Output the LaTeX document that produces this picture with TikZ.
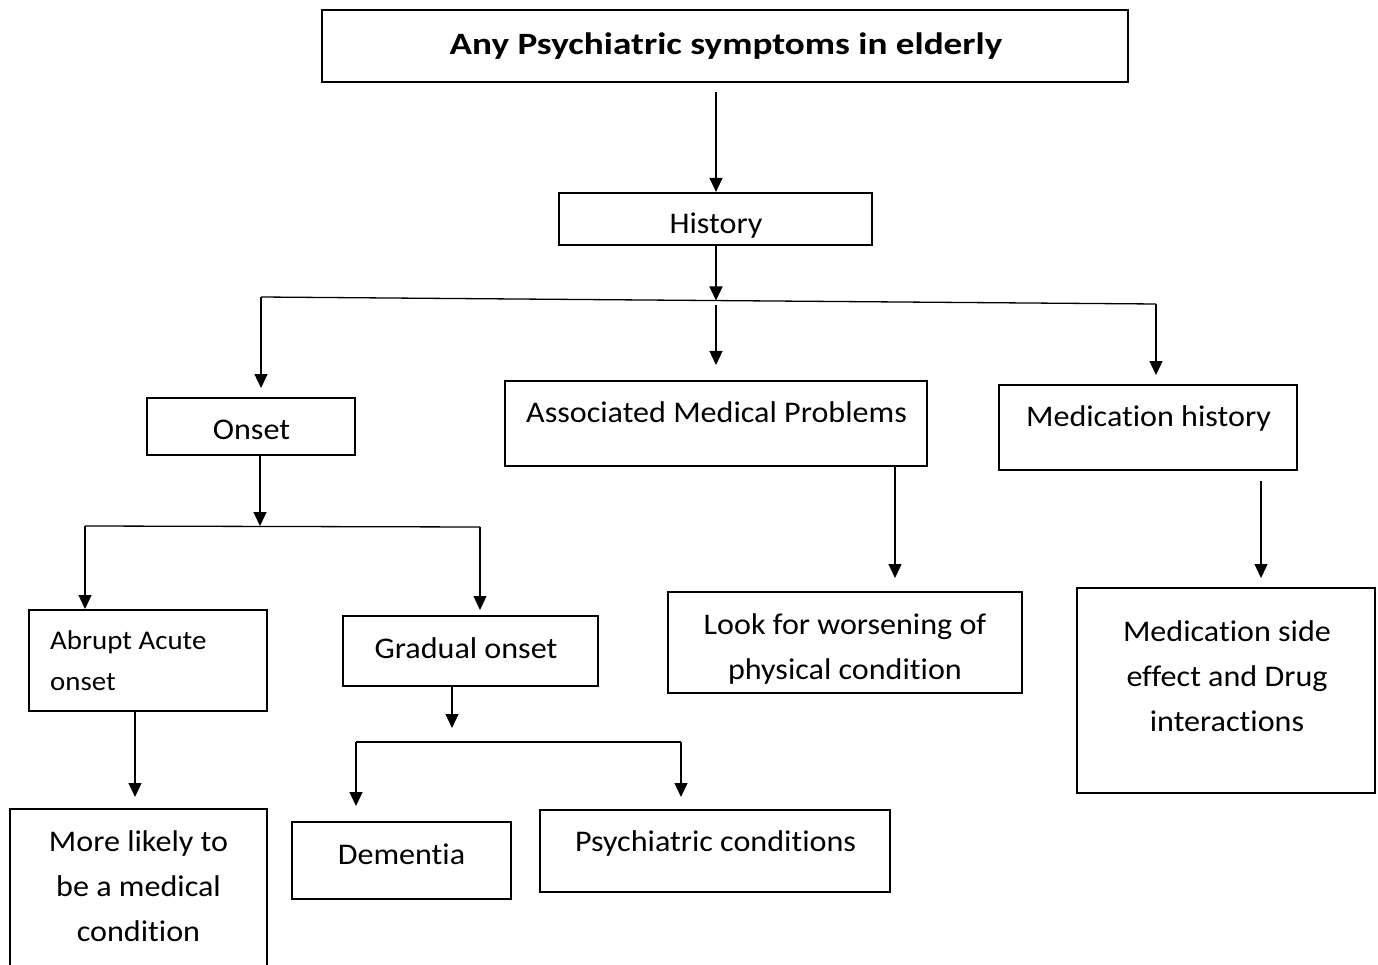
\documentclass[tikz,border=0pt]{standalone}
\usepackage{fontspec}
\setmainfont[Ligatures=CommonOff]{Carlito}
\newfontfamily\regf[FakeStretch=1.07,Ligatures=CommonOff]{Carlito}
\newfontfamily\topf[FakeStretch=1.2,Ligatures=CommonOff]{Carlito}
\usetikzlibrary{arrows.meta}
\tikzset{
  box/.style={draw, line width=2.2pt, inner sep=0pt},
  arr/.style={-{Triangle[width=13pt,length=14pt]}, line width=1.3pt},
  bus/.style={line width=1.3pt},
  txt/.style={inner sep=0pt, align=center, font=\regf\fontsize{30}{45}\selectfont},
  smalltxt/.style={inner sep=0pt, align=left, font=\regf\fontsize{27}{41}\selectfont},
  toptxt/.style={inner sep=0pt, font=\topf\bfseries\fontsize{31}{36}\selectfont},
}
\begin{document}
\begin{tikzpicture}[x=1pt,y=-1pt]
\useasboundingbox (0,0) rectangle (1378,965);
\clip (0,0) rectangle (1378,965);
% boxes
\node[box, minimum width=806pt, minimum height=72pt] (top) at (725,46) {};
\node[box, minimum width=313pt, minimum height=52pt] (hist) at (715.5,219) {};
\node[box, minimum width=208pt, minimum height=57pt] (onset) at (251,426.5) {};
\node[box, minimum width=422pt, minimum height=85pt] (assoc) at (716,423.5) {};
\node[box, minimum width=298pt, minimum height=85pt] (medh) at (1148,427.5) {};
\node[box, minimum width=238pt, minimum height=101pt] (abrupt) at (148,660.5) {};
\node[box, minimum width=255pt, minimum height=70pt] (grad) at (470.5,651) {};
\node[box, minimum width=354pt, minimum height=101pt] (look) at (845,642.5) {};
\node[box, minimum width=298pt, minimum height=205pt] (medside) at (1226,690.5) {};
\node[box, minimum width=257pt, minimum height=181pt] (more) at (138.5,899.5) {};
\node[box, minimum width=219pt, minimum height=77pt] (dem) at (401.5,860.5) {};
\node[box, minimum width=350pt, minimum height=82pt] (psy) at (715,851) {};
% texts
\node[toptxt, anchor=base] (ttop) at (726,55) {Any Psychiatric symptoms in elderly};
\node[txt, anchor=base] (thist) at (716,234) {History};
\node[txt, anchor=base] (tonset) at (251.5,439) {Onset};
\node[txt, anchor=base] (tassoc) at (716.5,422) {Associated Medical Problems};
\node[txt, anchor=base] (tmedh) at (1148.5,426) {Medication history};
\node[smalltxt, anchor=base west] (tabrupt) at (50,690) {Abrupt Acute\\onset};
\node[txt, anchor=base] (tgrad) at (466,658) {Gradual onset};
\node[txt, anchor=base] (tlook) at (845,679) {Look for worsening of\\physical condition};
\node[txt, anchor=base] (tmedside) at (1227,731) {Medication side\\effect and Drug\\interactions};
\node[txt, anchor=base] (tmore) at (138.5,941) {More likely to\\be a medical\\condition};
\node[txt, anchor=base] (tdem) at (401.5,864) {Dementia};
\node[txt, anchor=base] (tpsy) at (715.5,851) {Psychiatric conditions};
% coordinates
\coordinate (c1) at (716,92);
\coordinate (bl) at (261,297);
\coordinate (br) at (1156,304);
\coordinate (bm) at (716,300.5);
\coordinate (on1) at (261,388);
\coordinate (m1) at (716,305);
\coordinate (m2) at (716,365);
\coordinate (r1) at (1156,375);
\coordinate (obl) at (85,526);
\coordinate (obr) at (480,527);
\coordinate (obm) at (260,526);
\coordinate (ab1) at (85,609);
\coordinate (gr1) at (480,610);
\coordinate (lk1) at (895,578);
\coordinate (mh1) at (1261,481);
\coordinate (mh2) at (1261,578);
\coordinate (mo1) at (135,797);
\coordinate (gbm) at (452,728);
\coordinate (gbl) at (356,742);
\coordinate (gbr) at (681,742);
\coordinate (de1) at (356,806);
\coordinate (ps1) at (681,797);
% connectors
\draw[arr] (c1) -- (c1 |- hist.north);
\draw[arr] (hist.south -| bm) -- (bm);
\draw[bus] (bl) -- (br);
\draw[arr] (bl) -- (on1);
\draw[arr] (m1) -- (m2);
\draw[arr] (br) -- (r1);
\draw[arr] (onset.south -| obm) -- (obm);
\draw[bus] (obl) -- (obr);
\draw[arr] (obl) -- (ab1);
\draw[arr] (obr) -- (gr1);
\draw[arr] (assoc.south -| lk1) -- (lk1);
\draw[arr] (mh1) -- (mh2);
\draw[arr] (abrupt.south -| mo1) -- (mo1);
\draw[arr] (grad.south -| gbm) -- (gbm);
\draw[bus] (gbl) -- (gbr);
\draw[arr] (gbl) -- (de1);
\draw[arr] (gbr) -- (ps1);
\end{tikzpicture}
\end{document}
